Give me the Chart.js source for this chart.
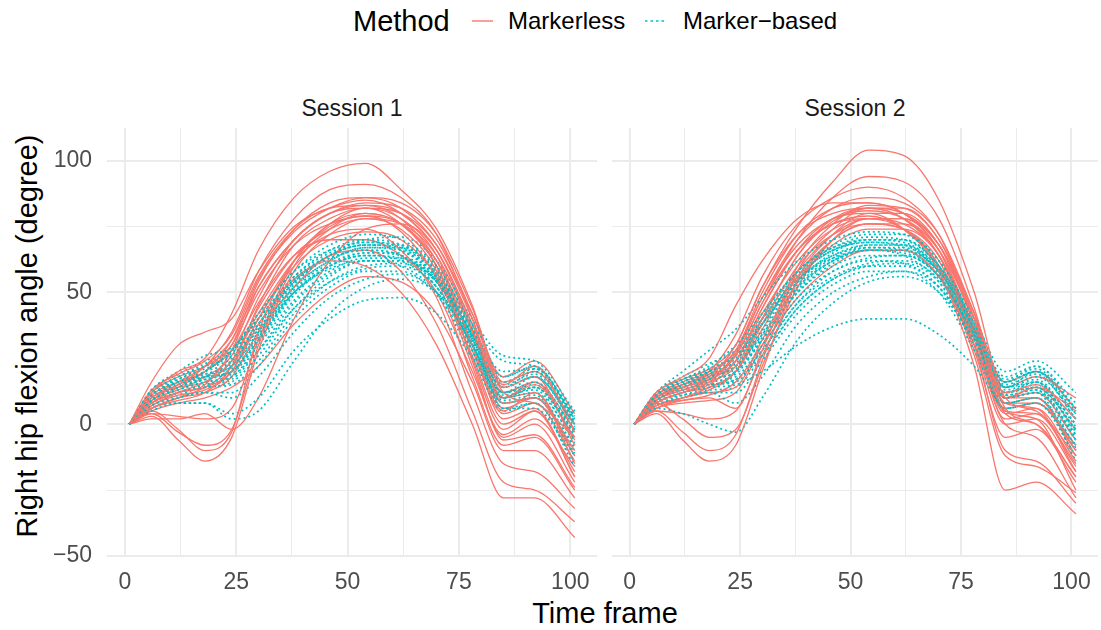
<!DOCTYPE html>
<html>
<head>
<meta charset="utf-8">
<title>Right hip flexion angle</title>
<script src="https://cdn.jsdelivr.net/npm/chart.js@4.4.1/dist/chart.umd.min.js"></script>
<style>
    html, body { margin: 0; padding: 0; background: #fff; }
    #wrap {
        position: relative;
        width: 1101px;
        height: 630px;
        overflow: hidden;
        font-family: 'Liberation Sans', Arial, Helvetica, sans-serif;
    }
    .label {
        position: absolute;
        white-space: nowrap;
        line-height: 1;
        transform: translate(-50%, -50%);
    }
    .legend-text {
        position: absolute;
        white-space: nowrap;
        line-height: 1;
        transform: translateY(-50%);
    }
    canvas { position: absolute; }
</style>
</head>
<body>
<div id="wrap">
    <div class="legend-text" style="left:353px; top:21px; font-size:29px; color:#000;">Method</div>
    <svg style="position:absolute; left:470px; top:14px;" width="26" height="14">
        <line x1="2" y1="7" x2="23" y2="7" stroke="#F8766D" stroke-width="1.4" />
    </svg>
    <div class="legend-text" style="left:508px; top:21px; font-size:24px; color:#000;">Markerless</div>
    <svg style="position:absolute; left:643px; top:14px;" width="26" height="14">
        <line x1="2" y1="7" x2="24" y2="7" stroke="#00BFC4" stroke-width="1.6" stroke-dasharray="2.5 3" />
    </svg>
    <div class="legend-text" style="left:683px; top:21px; font-size:24px; color:#000;">Marker&minus;based</div>

    <div class="label" style="left:352px; top:108px; font-size:23px; color:#1A1A1A;">Session 1</div>
    <div class="label" style="left:855px; top:108px; font-size:23px; color:#1A1A1A;">Session 2</div>

    <div class="label" style="left:605px; top:613px; font-size:29px; color:#000;">Time frame</div>
    <div class="label" style="left:27px; top:336px; font-size:29px; color:#000; transform: translate(-50%, -50%) rotate(-90deg);">Right hip flexion angle (degree)</div>

    <canvas id="session1Chart" width="605" height="504" style="left:0px; top:96px;"></canvas>
    <canvas id="session2Chart" width="501" height="504" style="left:605px; top:96px;"></canvas>
</div>

<script>
// Time frames where each curve is sampled
const frames = [1, 6, 12, 18, 24, 30, 38, 46, 54, 62, 70, 78, 85, 92, 101];

const xTicks = [0, 12.5, 25, 37.5, 50, 62.5, 75, 87.5, 100];
const yTicks = [-50, -25, 0, 25, 50, 75, 100];

// Session 1, one row per trial (degrees)
const session1Markerless = [
    [0, 12, 20, 25, 42, 66, 86, 96, 99, 89, 74, 45, 12, 8, -5],
    [0, 10, 15, 22, 35, 58, 78, 89, 91, 86, 72, 40, 8, 10, -10],
    [0, 16, 30, 35, 40, 58, 75, 82, 85, 80, 66, 38, 15, 22, -3],
    [0, 8, 12, 15, 28, 52, 70, 80, 84, 82, 70, 42, 14, 18, -8],
    [0, 6, 9, 12, 22, 45, 68, 78, 82, 78, 64, 30, 5, 12, -15],
    [0, 4, -3, -8, -2, 30, 60, 74, 80, 76, 60, 25, -2, 5, -20],
    [0, 3, -6, -14, -5, 28, 58, 72, 78, 74, 58, 22, -5, 0, -22],
    [0, 5, -2, -10, -3, 35, 62, 75, 79, 73, 55, 18, -8, -5, -25],
    [0, 12, 18, 22, 30, 50, 68, 76, 79, 76, 62, 35, 10, 15, -5],
    [0, 8, 12, 14, 20, 38, 55, 62, 60, 50, 30, 0, -28, -28, -43],
    [0, 6, 10, 12, 18, 35, 52, 64, 66, 58, 38, 5, -22, -25, -37],
    [0, 10, 14, 16, 24, 42, 62, 72, 74, 66, 48, 12, -15, -18, -32],
    [0, 2, 2, 4, -2, 10, 40, 62, 74, 76, 66, 38, 10, 12, -12],
    [0, 9, 15, 20, 32, 55, 73, 82, 86, 84, 72, 44, 16, 20, 0],
    [0, 7, 11, 13, 20, 40, 60, 70, 73, 70, 56, 26, 0, 5, -18],
    [0, 5, 8, 10, 14, 22, 38, 50, 56, 54, 42, 16, -10, -10, -28],
    [0, 11, 16, 20, 30, 54, 74, 84, 86, 82, 68, 40, 12, 16, -6],
    [0, 9, 13, 18, 26, 48, 70, 80, 83, 80, 66, 36, 6, 10, -12],
    [0, 13, 19, 24, 34, 56, 74, 82, 83, 78, 62, 30, 2, 6, -20],
    [0, 7, 12, 16, 24, 44, 64, 74, 78, 76, 64, 36, 10, 16, -2],
    [0, 4, 3, 2, 6, 32, 62, 76, 80, 76, 60, 24, -6, -4, -24],
    [0, 8, 14, 20, 28, 46, 64, 70, 70, 64, 50, 20, -4, 2, -16],
    [0, 10, 16, 22, 32, 52, 70, 80, 82, 76, 60, 28, 4, 8, -14],
    [0, 6, 10, 14, 22, 40, 62, 76, 82, 80, 68, 42, 18, 24, 4]
];

const session1MarkerBased = [
    [0, 12, 18, 22, 26, 38, 55, 64, 68, 66, 55, 32, 12, 18, 0],
    [0, 10, 15, 20, 28, 42, 58, 68, 72, 70, 60, 38, 24, 22, 4],
    [0, 9, 14, 17, 20, 32, 50, 60, 64, 62, 52, 30, 10, 14, -4],
    [0, 11, 16, 19, 22, 35, 52, 62, 67, 66, 56, 34, 14, 20, 2],
    [0, 8, 12, 14, 16, 26, 44, 56, 62, 62, 54, 32, 8, 10, -8],
    [0, 5, 8, 8, 4, 10, 28, 40, 47, 48, 42, 25, 5, 8, -12],
    [0, 7, 10, 12, 10, 18, 35, 48, 55, 57, 50, 30, 6, 6, -14],
    [0, 13, 20, 26, 29, 40, 56, 65, 69, 68, 58, 36, 20, 21, 3],
    [0, 9, 13, 16, 18, 30, 47, 58, 63, 63, 54, 30, 10, 12, -6],
    [0, 10, 15, 18, 24, 38, 54, 63, 66, 64, 52, 28, 8, 10, -10],
    [0, 8, 12, 15, 18, 28, 44, 54, 59, 60, 52, 30, 12, 16, -2],
    [0, 12, 17, 21, 25, 36, 53, 64, 70, 71, 62, 40, 26, 24, 5],
    [0, 6, 10, 12, 12, 22, 40, 52, 58, 58, 49, 28, 6, 8, -16],
    [0, 11, 16, 18, 20, 34, 50, 59, 62, 60, 50, 26, 10, 14, -5],
    [0, 6, 8, 8, 2, 5, 24, 42, 52, 55, 50, 32, 12, 14, -3],
    [0, 10, 14, 17, 21, 33, 51, 61, 65, 64, 55, 34, 14, 18, 0],
    [0, 11, 17, 22, 27, 40, 56, 66, 70, 68, 58, 36, 16, 20, 1],
    [0, 9, 14, 18, 22, 34, 52, 62, 67, 67, 58, 34, 12, 15, -3],
    [0, 10, 16, 20, 24, 36, 54, 64, 68, 67, 57, 33, 11, 13, -7],
    [0, 12, 18, 23, 28, 42, 58, 66, 69, 67, 57, 35, 18, 22, 2],
    [0, 8, 12, 15, 17, 28, 46, 57, 62, 62, 54, 33, 14, 18, -1],
    [0, 7, 11, 14, 15, 24, 42, 54, 60, 61, 54, 34, 15, 19, 0],
    [0, 10, 15, 18, 20, 32, 50, 60, 64, 63, 54, 31, 9, 11, -9],
    [0, 13, 19, 24, 28, 40, 55, 63, 66, 64, 54, 30, 8, 10, -11],
    [0, 9, 13, 16, 19, 31, 49, 60, 65, 65, 56, 34, 16, 21, 3],
    [0, 11, 16, 19, 23, 37, 54, 64, 68, 68, 59, 37, 18, 22, 1]
];

// Session 2
const session2Markerless = [
    [0, 10, 14, 18, 30, 52, 75, 92, 104, 102, 85, 50, 10, 5, -12],
    [0, 8, 12, 16, 26, 46, 70, 86, 94, 92, 78, 44, 6, 0, -20],
    [0, 12, 18, 25, 45, 62, 78, 84, 84, 80, 68, 40, 12, 15, 2],
    [0, 4, -6, -14, -8, 20, 55, 72, 80, 80, 68, 38, 5, 2, -25],
    [0, 5, -3, -10, -4, 24, 58, 74, 82, 82, 70, 40, 8, 6, -18],
    [0, 7, 9, 10, 6, 28, 60, 76, 83, 82, 70, 42, 10, 10, -10],
    [0, 9, 13, 16, 22, 40, 64, 78, 82, 78, 64, 32, 0, -5, -28],
    [0, 8, 12, 15, 24, 44, 66, 78, 80, 74, 58, 22, -25, -22, -34],
    [0, 6, 10, 14, 20, 38, 60, 72, 76, 74, 62, 30, -10, -14, -30],
    [0, 11, 16, 20, 28, 48, 68, 78, 81, 78, 66, 36, 10, 14, 5],
    [0, 7, 10, 12, 14, 32, 56, 70, 76, 76, 66, 40, 14, 18, 10],
    [0, 9, 14, 17, 24, 42, 62, 74, 78, 76, 64, 34, 2, 4, -15],
    [0, 10, 15, 18, 26, 46, 66, 76, 79, 74, 60, 28, -5, -2, -22],
    [0, 10, 15, 20, 34, 56, 76, 86, 90, 86, 72, 40, 8, 8, -8],
    [0, 6, 9, 11, 16, 30, 48, 60, 66, 66, 56, 30, 5, 4, -16],
    [0, 5, 4, 2, 5, 26, 54, 70, 76, 74, 60, 26, -12, -16, -26],
    [0, 9, 13, 17, 27, 48, 70, 82, 86, 84, 72, 42, 10, 12, -6],
    [0, 11, 15, 19, 28, 50, 72, 82, 84, 80, 66, 34, 4, 6, -14],
    [0, 7, 10, 13, 20, 40, 64, 77, 82, 80, 68, 38, 8, 10, -12],
    [0, 8, 12, 14, 20, 36, 58, 72, 78, 78, 68, 42, 16, 20, 6],
    [0, 10, 14, 17, 24, 44, 66, 76, 78, 74, 60, 30, 0, 2, -18],
    [0, 6, 8, 9, 12, 30, 54, 68, 74, 74, 64, 36, 10, 14, -2],
    [0, 12, 17, 21, 30, 52, 72, 80, 82, 78, 64, 34, 6, 8, -10],
    [0, 8, 2, -5, -2, 22, 52, 70, 78, 78, 66, 36, 4, 0, -20]
];

const session2MarkerBased = [
    [0, 11, 17, 22, 30, 42, 58, 67, 71, 70, 60, 38, 16, 22, 8],
    [0, 10, 15, 20, 26, 38, 54, 64, 68, 68, 58, 36, 14, 18, 4],
    [0, 12, 20, 28, 36, 48, 62, 70, 73, 72, 62, 40, 20, 24, 12],
    [0, 8, 12, 14, 15, 20, 30, 37, 40, 40, 34, 22, 8, 10, -8],
    [0, 6, 4, 0, -3, 10, 32, 46, 54, 56, 50, 32, 10, 12, -4],
    [0, 9, 14, 17, 20, 32, 50, 60, 64, 64, 56, 34, 12, 16, 0],
    [0, 10, 15, 18, 22, 36, 54, 65, 70, 70, 60, 36, 12, 14, -6],
    [0, 8, 12, 15, 16, 28, 46, 56, 61, 62, 55, 34, 14, 20, 6],
    [0, 11, 16, 20, 24, 40, 58, 68, 72, 72, 62, 38, 14, 16, -4],
    [0, 7, 10, 12, 12, 24, 42, 53, 58, 58, 50, 28, 6, 8, -12],
    [0, 9, 13, 16, 18, 30, 48, 58, 62, 61, 52, 30, 8, 10, -10],
    [0, 10, 14, 18, 22, 34, 52, 62, 66, 66, 58, 36, 16, 20, 2],
    [0, 8, 11, 12, 8, 18, 38, 50, 56, 58, 52, 32, 10, 12, -14],
    [0, 12, 18, 23, 28, 40, 55, 63, 66, 64, 54, 30, 6, 8, -8],
    [0, 9, 13, 15, 17, 26, 44, 55, 60, 60, 52, 32, 12, 14, -2],
    [0, 11, 16, 19, 23, 38, 56, 66, 69, 67, 56, 33, 12, 16, 0],
    [0, 10, 15, 19, 24, 38, 56, 66, 70, 70, 60, 38, 18, 22, 6],
    [0, 11, 16, 20, 25, 38, 55, 64, 67, 66, 56, 33, 12, 15, -2],
    [0, 9, 13, 16, 19, 32, 50, 61, 66, 66, 58, 36, 16, 20, 4],
    [0, 8, 12, 15, 17, 28, 46, 58, 63, 64, 56, 35, 15, 19, 2],
    [0, 12, 17, 21, 27, 42, 58, 67, 70, 69, 59, 36, 14, 17, -1],
    [0, 10, 14, 17, 20, 33, 51, 62, 67, 67, 58, 35, 13, 16, -3],
    [0, 9, 14, 18, 22, 35, 53, 63, 68, 68, 59, 37, 17, 21, 5],
    [0, 7, 11, 13, 14, 26, 44, 55, 60, 61, 54, 33, 11, 13, -6],
    [0, 11, 16, 21, 26, 40, 57, 66, 69, 68, 57, 34, 11, 13, -9],
    [0, 10, 15, 18, 21, 34, 52, 62, 66, 65, 56, 33, 10, 12, -5]
];

const markerlessColor = '#F8766D';
const markerBasedColor = '#00BFC4';
const fontFamily = "'Liberation Sans', Arial, Helvetica, sans-serif";

function formatTick(v) {
    return v < 0 ? '\u2212' + Math.abs(v) : String(v);
}

function curveDataset(values, color, dash, width) {
    return {
        data: frames.map((f, i) => ({ x: f, y: values[i] })),
        borderColor: color,
        borderWidth: width,
        borderDash: dash,
        pointRadius: 0,
        fill: false,
        cubicInterpolationMode: 'monotone'
    };
}

function gridWidth(ctx, step) {
    return ctx.tick && ctx.tick.value % step === 0 ? 2 : 1;
}

function makeSessionChart(canvasId, markerless, markerBased, showYLabels) {
    const datasets = [];
    // alternate the two methods so neither sits entirely on top
    for (let i = 0; i < Math.max(markerless.length, markerBased.length); i++) {
        if (markerless[i]) datasets.push(curveDataset(markerless[i], markerlessColor, [], 1.3));
        if (markerBased[i]) datasets.push(curveDataset(markerBased[i], markerBasedColor, [2, 3], 1.7));
    }

    const ctx = document.getElementById(canvasId).getContext('2d');
    return new Chart(ctx, {
        type: 'line',
        data: { datasets: datasets },
        options: {
            responsive: false,
            animation: false,
            devicePixelRatio: 1,
            layout: {
                padding: { left: showYLabels ? 0 : 7, right: 8, top: 32, bottom: 0 }
            },
            plugins: {
                legend: { display: false },
                tooltip: { enabled: false }
            },
            scales: {
                x: {
                    type: 'linear',
                    min: -4,
                    max: 106,
                    afterBuildTicks: scale => { scale.ticks = xTicks.map(v => ({ value: v })); },
                    afterFit: scale => { scale.height = 43; },
                    border: { display: false },
                    grid: {
                        color: '#EBEBEB',
                        lineWidth: ctx => gridWidth(ctx, 25),
                        drawTicks: false
                    },
                    ticks: {
                        autoSkip: false,
                        maxRotation: 0,
                        padding: 12,
                        color: '#4D4D4D',
                        font: { family: fontFamily, size: 23 },
                        callback: v => (v % 25 === 0 ? formatTick(v) : '')
                    }
                },
                y: {
                    min: -50.4,
                    max: 112.4,
                    afterBuildTicks: scale => { scale.ticks = yTicks.map(v => ({ value: v })); },
                    afterFit: scale => { scale.width = showYLabels ? 107 : 0; },
                    border: { display: false },
                    grid: {
                        color: '#EBEBEB',
                        lineWidth: ctx => gridWidth(ctx, 50),
                        drawTicks: false
                    },
                    ticks: {
                        display: showYLabels,
                        autoSkip: false,
                        padding: 15,
                        color: '#4D4D4D',
                        font: { family: fontFamily, size: 23 },
                        callback: v => (v % 50 === 0 ? formatTick(v) : '')
                    }
                }
            }
        }
    });
}

makeSessionChart('session1Chart', session1Markerless, session1MarkerBased, true);
makeSessionChart('session2Chart', session2Markerless, session2MarkerBased, false);
</script>
</body>
</html>
